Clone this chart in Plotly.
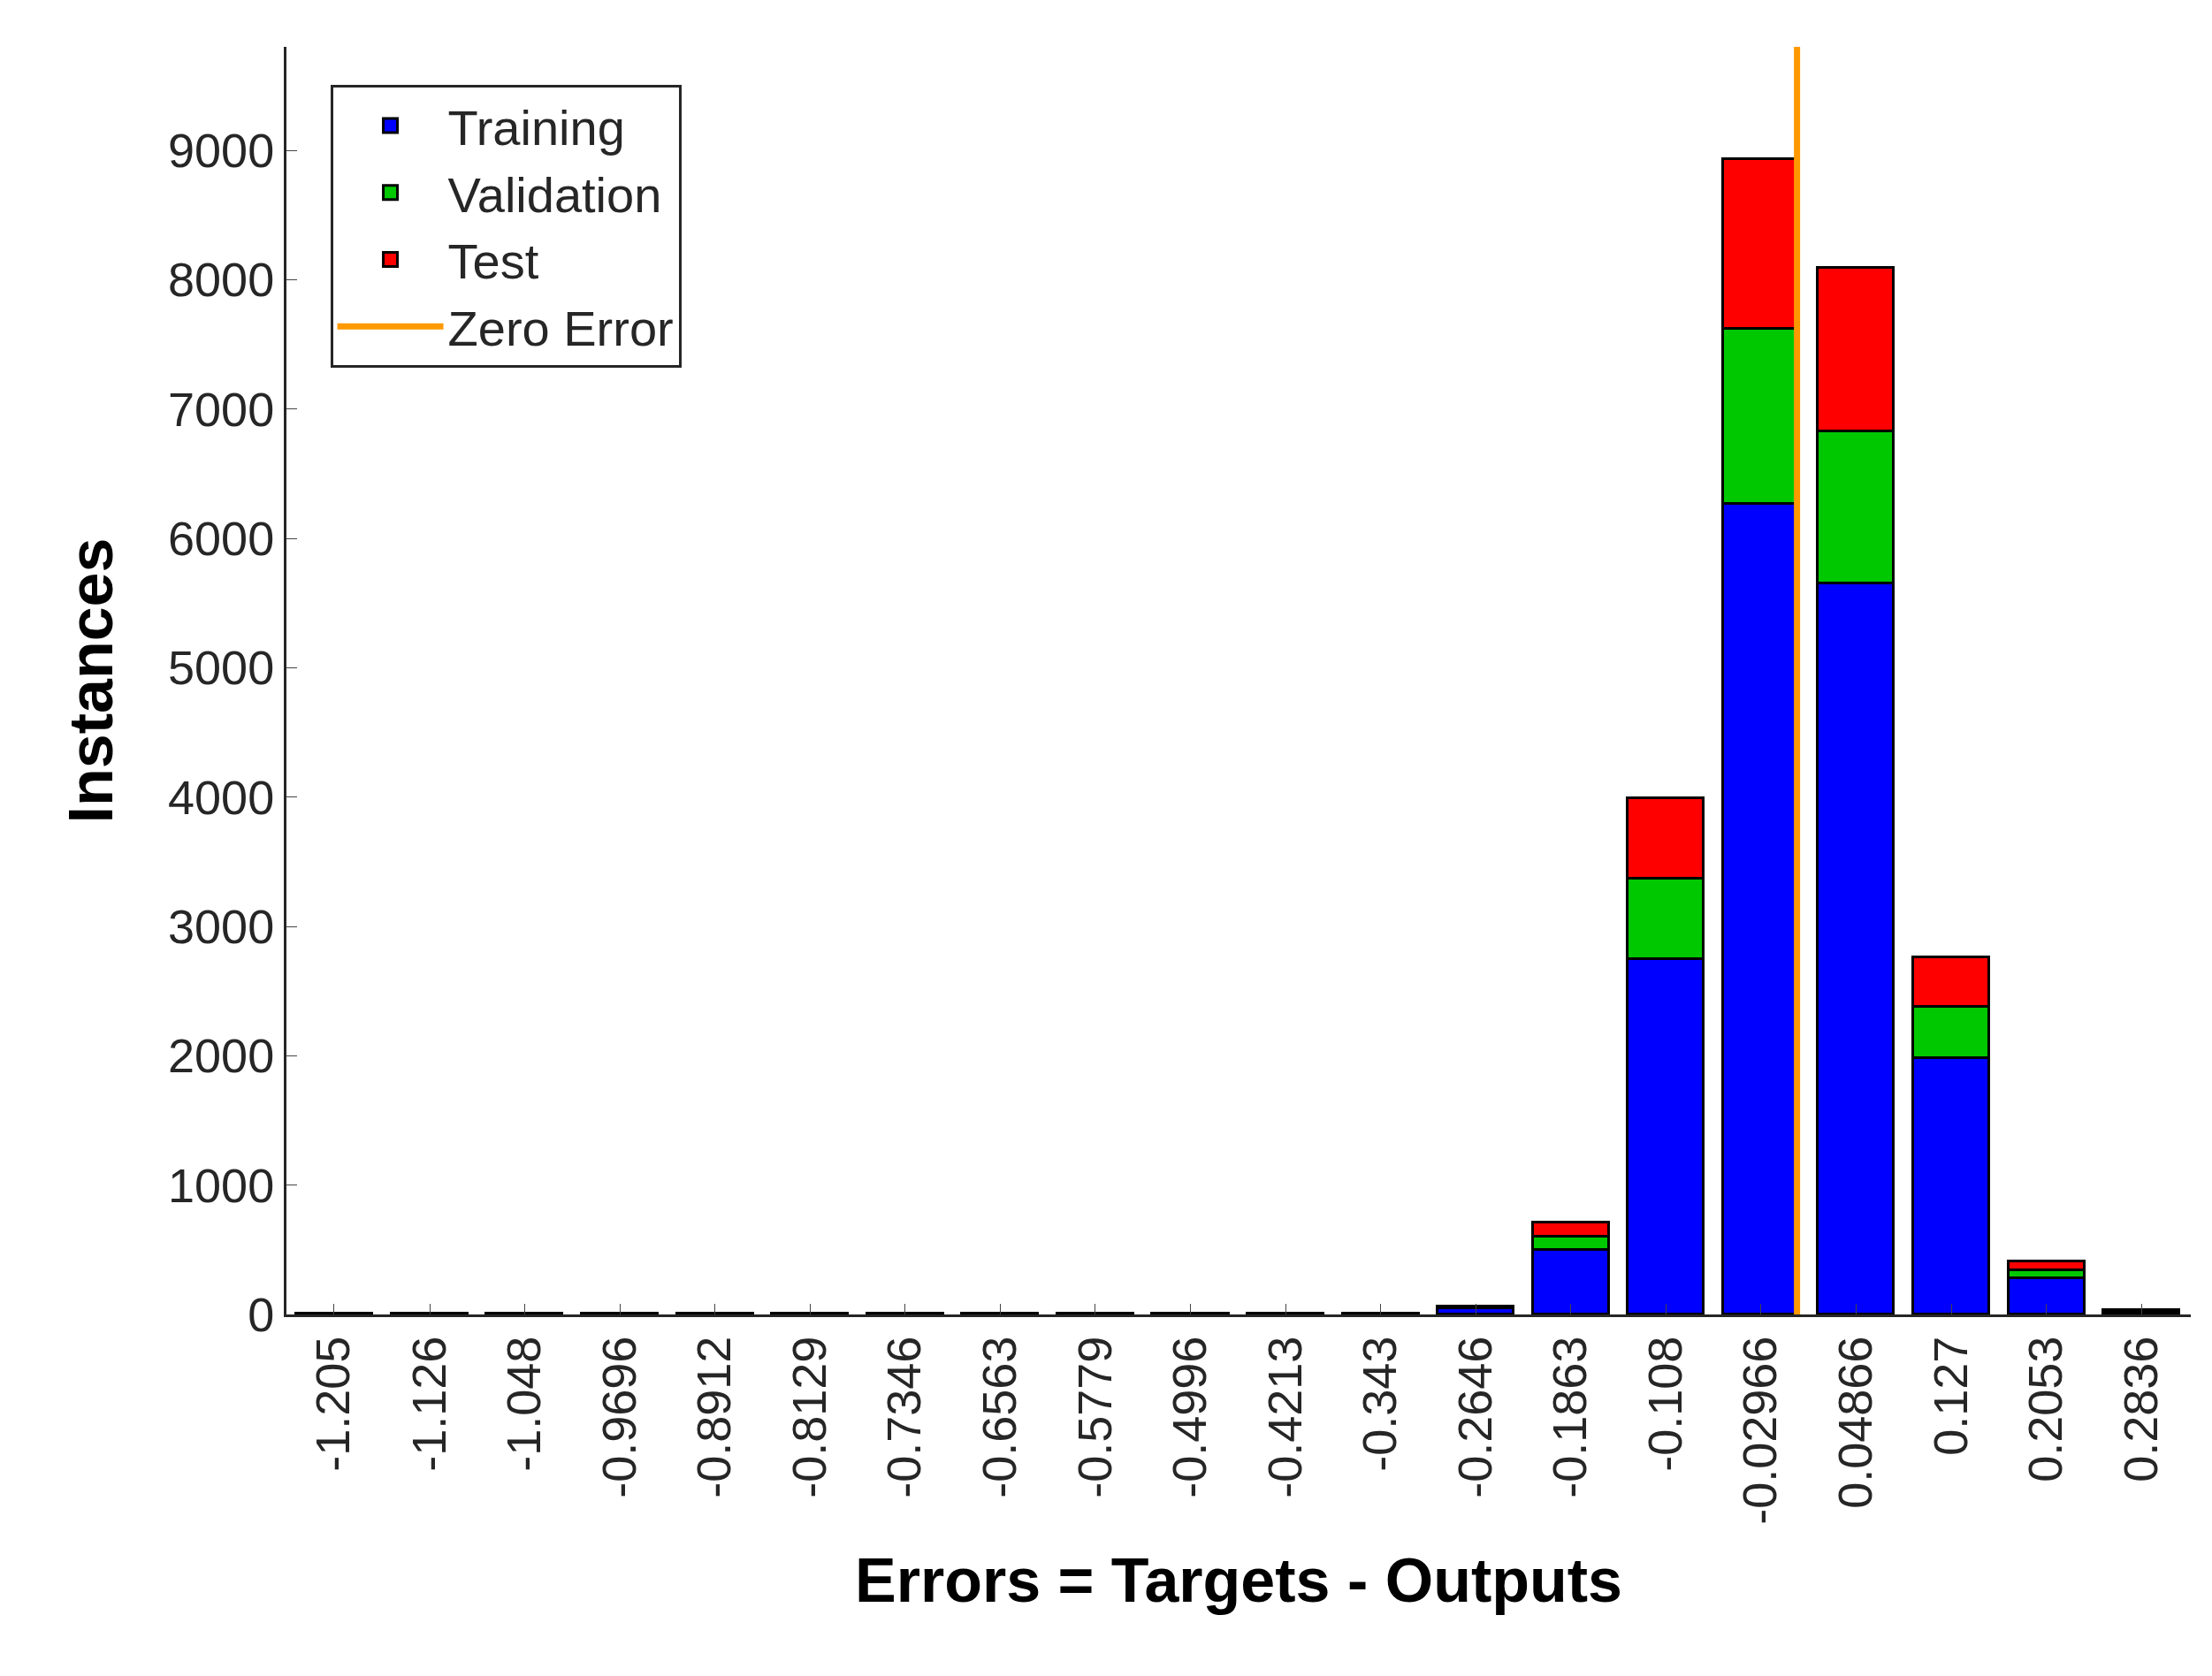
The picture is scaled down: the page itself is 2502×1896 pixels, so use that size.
import plotly.graph_objects as go

centers = [-1.205, -1.126, -1.048, -0.9696, -0.8912, -0.8129, -0.7346, -0.6563, -0.5779, -0.4996,
           -0.4213, -0.343, -0.2646, -0.1863, -0.108, -0.02966, 0.04866, 0.127, 0.2053, 0.2836]
tick_labels = ["-1.205", "-1.126", "-1.048", "-0.9696", "-0.8912", "-0.8129", "-0.7346", "-0.6563", "-0.5779", "-0.4996",
               "-0.4213", "-0.343", "-0.2646", "-0.1863", "-0.108", "-0.02966", "0.04866", "0.127", "0.2053", "0.2836"]
training = [3, 2, 2, 2, 2, 2, 2, 2, 2, 2, 2, 5, 45, 500, 2750, 6270, 5650, 1980, 280, 20]
validation = [1, 1, 1, 1, 1, 1, 1, 1, 1, 1, 1, 1, 8, 100, 620, 1350, 1180, 400, 60, 6]
test = [1, 1, 1, 1, 1, 1, 1, 1, 1, 1, 1, 1, 7, 110, 620, 1310, 1260, 380, 70, 6]
zero_error = 0.0

w = 0.0783
fig = go.Figure()
for name, vals, col in [("Training", training, "#0000FF"), ("Validation", validation, "#00C800"), ("Test", test, "#FF0000")]:
    fig.add_trace(go.Bar(x=centers, y=vals, name=name, width=w * 0.8, showlegend=False,
                         marker=dict(color=col, line=dict(color="black", width=3))))
    fig.add_trace(go.Scatter(x=[None], y=[None], mode="markers", name=name,
                             marker=dict(symbol="square", size=44, color=col,
                                         line=dict(color="black", width=3))))
fig.add_trace(go.Scatter(x=[zero_error, zero_error], y=[0, 9800], mode="lines", name="Zero Error",
                         line=dict(color="#FF9900", width=7)))

fig.update_layout(
    barmode="stack", bargap=0,
    width=2502, height=1896,
    paper_bgcolor="white", plot_bgcolor="white",
    margin=dict(l=316, r=32, t=45, b=417),
    font=dict(family="Liberation Sans, Arial", size=54, color="#262626"),
    legend=dict(x=0.023, y=0.97, xanchor="left", yanchor="top", bgcolor="white",
                bordercolor="#262626", borderwidth=3, font=dict(size=56, color="#262626"),
                traceorder="normal", itemwidth=120, tracegroupgap=0),
    xaxis=dict(range=[centers[0] - w * 0.5, centers[-1] + w * 0.52], tickmode="array",
               tickvals=centers, ticktext=tick_labels, tickangle=-90, showline=True,
               linecolor="#262626", linewidth=3, ticks="inside", ticklen=12, showgrid=False,
               zeroline=False,
               title=dict(text="<b>Errors = Targets - Outputs</b>", font=dict(size=70, color="black"),
                          standoff=40)),
    yaxis=dict(range=[0, 9800], tickvals=list(range(0, 10000, 1000)), showline=True,
               linecolor="#262626", linewidth=3, ticks="inside", ticklen=12, showgrid=False,
               zeroline=False,
               title=dict(text="<b>Instances</b>", font=dict(size=70, color="black"), standoff=40)),
)
fig.write_html("out.html")
